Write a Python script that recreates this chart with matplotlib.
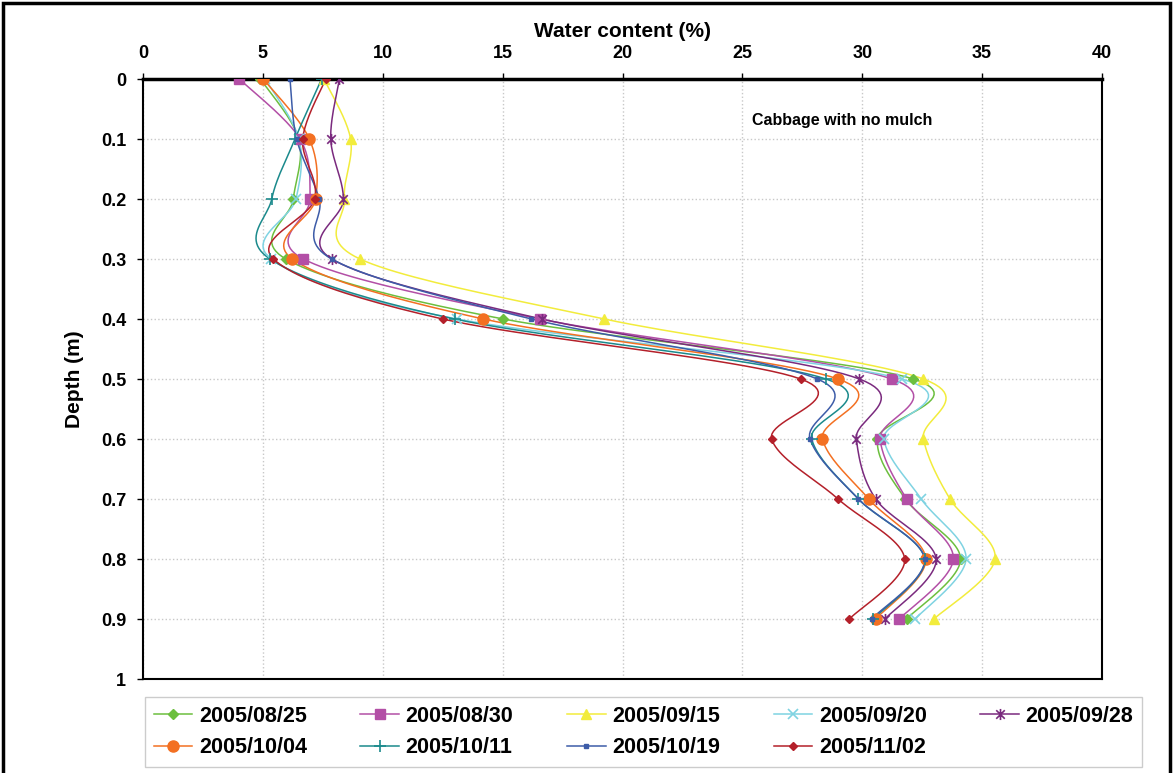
import numpy as np
import matplotlib
matplotlib.use("Agg")
import matplotlib.pyplot as plt
from matplotlib.path import Path
from matplotlib.patches import Rectangle

plt.rcParams['font.family'] = ['Liberation Sans', 'DejaVu Sans']

# depth below surface (m)
depth = [0.0, 0.1, 0.2, 0.3, 0.4, 0.5, 0.6, 0.7, 0.8, 0.9]

# water content (%) per sampling date
wc_0825 = [4.9, 6.5, 6.27, 5.96, 15.03, 32.13, 30.63, 31.8, 34.1, 31.85]
wc_0830 = [4.02, 6.55, 6.97, 6.69, 16.56, 31.23, 30.74, 31.85, 33.8, 31.55]
wc_0915 = [7.55, 8.66, 8.4, 9.05, 19.24, 32.55, 32.55, 33.66, 35.54, 32.99]
wc_0920 = [5.1, 6.5, 6.38, 5.35, 13.1, 31.64, 30.9, 32.46, 34.33, 32.21]
wc_0928 = [8.19, 7.83, 8.36, 7.88, 16.63, 29.88, 29.75, 30.56, 33.08, 30.95]
wc_1004 = [5.02, 6.94, 7.2, 6.23, 14.2, 28.99, 28.34, 30.27, 32.65, 30.56]
wc_1011 = [7.45, 6.34, 5.37, 5.3, 13.0, 28.49, 27.89, 29.84, 32.6, 30.46]
wc_1019 = [6.13, 6.41, 7.35, 7.87, 16.2, 28.13, 27.82, 29.84, 32.6, 30.39]
wc_1102 = [7.62, 6.66, 7.16, 5.44, 12.5, 27.43, 26.22, 28.99, 31.77, 29.46]

dates = ['2005/08/25', '2005/08/30', '2005/09/15', '2005/09/20', '2005/09/28',
         '2005/10/04', '2005/10/11', '2005/10/19', '2005/11/02']
series = [wc_0825, wc_0830, wc_0915, wc_0920, wc_0928,
          wc_1004, wc_1011, wc_1019, wc_1102]

# asterisk marker: x with a vertical bar
star = Path([(-1, -1), (1, 1), (-1, 1), (1, -1), (0, -1.3), (0, 1.3)],
            [Path.MOVETO, Path.LINETO, Path.MOVETO, Path.LINETO, Path.MOVETO, Path.LINETO])

styles = [
    dict(color='#6cbf3e', marker='D', ms=5),
    dict(color='#b34fa6', marker='s', ms=7),
    dict(color='#f2ec3c', marker='^', ms=7),
    dict(color='#7fd3e2', marker='x', ms=7, mew=1.2),
    dict(color='#7a2a7e', marker=star, ms=8, mew=1.2),
    dict(color='#f37022', marker='o', ms=8),
    dict(color='#1b8a8c', marker='+', ms=8, mew=1.2),
    dict(color='#3d5ca8', marker='s', ms=3),
    dict(color='#b4202a', marker='D', ms=4),
]


def smooth(x, y, sx=24.0, sy=600.0, n=24):
    # Catmull-Rom through the points, worked out in screen-like units
    p = np.column_stack([np.asarray(x) * sx, np.asarray(y) * sy])
    p = np.vstack([p[0], p, p[-1]])
    out = []
    for i in range(1, len(p) - 2):
        p0, p1, p2, p3 = p[i - 1], p[i], p[i + 1], p[i + 2]
        t = np.linspace(0, 1, n)[:, None]
        seg = 0.5 * ((2 * p1) + (-p0 + p2) * t + (2 * p0 - 5 * p1 + 4 * p2 - p3) * t ** 2
                     + (-p0 + 3 * p1 - 3 * p2 + p3) * t ** 3)
        out.append(seg)
    out = np.vstack(out)
    return out[:, 0] / sx, out[:, 1] / sy


fig = plt.figure(figsize=(11.73, 7.73), dpi=100)
ax = fig.add_axes([143 / 1173, 1 - 679 / 773, 959 / 1173, 600 / 773])

handles = []
for lab, vals, st in zip(dates, series, styles):
    xs, ys = smooth(vals, depth)
    ax.plot(xs, ys, color=st['color'], lw=1.1, zorder=2)
    ax.plot(vals, depth, ls='none', marker=st['marker'], ms=st['ms'],
            mfc=st['color'], mec=st['color'], mew=st.get('mew', 1), zorder=3)
    h, = ax.plot([], [], color=st['color'], lw=1.1, marker=st['marker'], ms=st['ms'],
                 mfc=st['color'], mec=st['color'], mew=st.get('mew', 1), label=lab)
    handles.append(h)

ax.set_xlim(0, 40)
ax.set_ylim(1, 0)
ax.set_xticks(np.arange(0, 41, 5))
ax.set_yticks(np.arange(0, 1.01, 0.1))
ax.set_yticklabels(['0', '0.1', '0.2', '0.3', '0.4', '0.5', '0.6', '0.7', '0.8', '0.9', '1'])
ax.xaxis.tick_top()
ax.xaxis.set_label_position('top')
ax.tick_params(labelsize=13, length=4, width=1, pad=8)
for t in ax.get_xticklabels() + ax.get_yticklabels():
    t.set_fontweight('bold')
ax.set_xlabel('Water content (%)', fontsize=15, fontweight='bold', labelpad=6)
ax.set_ylabel('Depth (m)', fontsize=15, fontweight='bold', labelpad=12)
ax.grid(True, color='#c8c8c8', ls=':', lw=1)
ax.set_axisbelow(True)
for s in ax.spines.values():
    s.set_linewidth(1.5)
ax.spines['top'].set_linewidth(2.5)

ax.text(25.4, 0.07, 'Cabbage with no mulch', fontsize=11.5, fontweight='bold', va='center')

order = [0, 5, 1, 6, 2, 7, 3, 8, 4]
leg = fig.legend([handles[i] for i in order], [dates[i] for i in order], ncol=5,
                 loc='center', bbox_to_anchor=(145 / 1173, 6 / 773, 997 / 1173, 70 / 773),
                 mode='expand', frameon=True, fancybox=False, handlelength=1.8,
                 handletextpad=0.3, borderaxespad=0, columnspacing=1.0,
                 prop=dict(size=15.5, weight='bold'))
leg.get_frame().set_edgecolor('#c0c0c0')
leg.get_frame().set_linewidth(1)

fig.patches.append(Rectangle((3 / 1173, -0.01), 1167 / 1173, 1 - 3 / 773 + 0.01,
                             transform=fig.transFigure, fill=False, ec='black', lw=2.5))

fig.savefig('out.png', dpi=100)
